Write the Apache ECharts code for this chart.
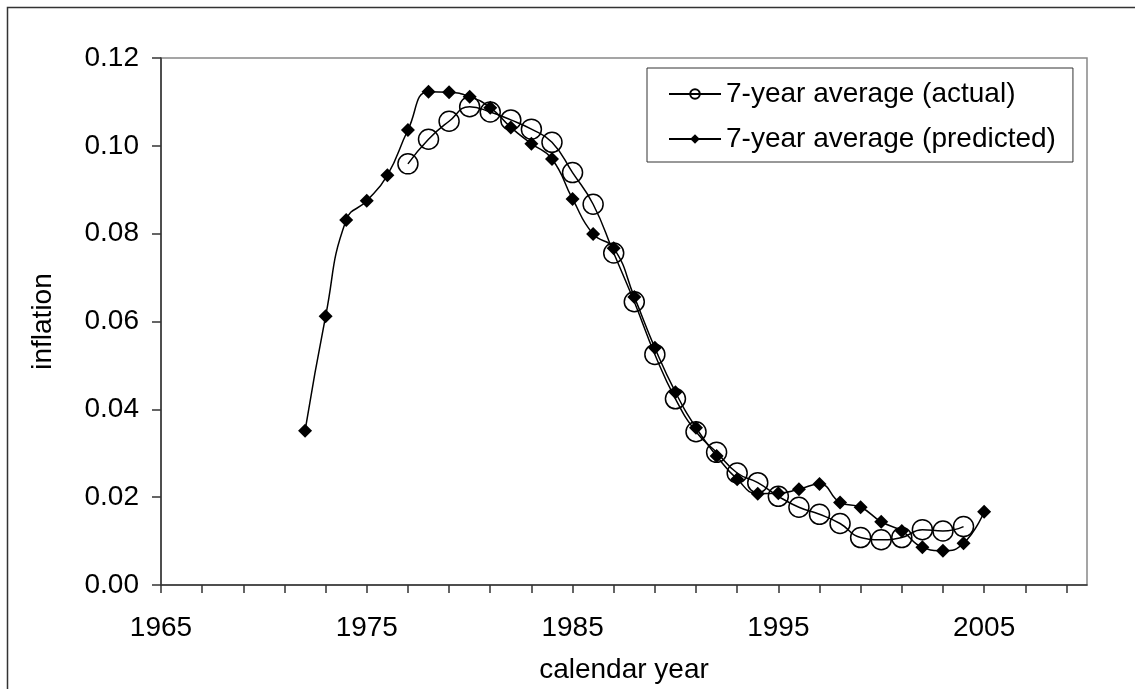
<!DOCTYPE html>
<html>
<head>
<meta charset="utf-8">
<title>inflation</title>
<style>
    html, body { margin:0; padding:0; background:#fff; }
    #main { width:1135px; height:689px; }
</style>
</head>
<body>
<div id="main"></div>
<script src="https://cdn.jsdelivr.net/npm/echarts@6/dist/echarts.min.js"></script>
<script type="text/javascript">
    // years and values
    var predYears = [1972,1973,1974,1975,1976,1977,1978,1979,1980,1981,1982,1983,1984,1985,1986,1987,1988,
                     1989,1990,1991,1992,1993,1994,1995,1996,1997,1998,1999,2000,2001,2002,2003,2004,2005];
    var predicted = [0.0351,0.0612,0.0831,0.0875,0.0933,0.1036,0.1123,0.1122,0.1112,0.1087,0.1042,0.1005,0.0970,
                     0.0879,0.0799,0.0767,0.0656,0.0540,0.0439,0.0358,0.0294,0.0241,0.0208,0.0209,0.0218,0.0230,
                     0.0188,0.0177,0.0144,0.0123,0.0086,0.0078,0.0095,0.0167];
    var actYears = [1977,1978,1979,1980,1981,1982,1983,1984,1985,1986,1987,1988,1989,1990,
                    1991,1992,1993,1994,1995,1996,1997,1998,1999,2000,2001,2002,2003,2004];
    var actual = [0.0959,0.1015,0.1056,0.1089,0.1077,0.1059,0.1038,0.1008,0.0939,0.0867,0.0756,0.0645,0.0525,0.0424,
                  0.0349,0.0302,0.0255,0.0233,0.0202,0.0177,0.0161,0.0140,0.0108,0.0103,0.0108,0.0126,0.0123,0.0133];
    var xTicks = [1965,1967,1969,1971,1973,1975,1977,1979,1981,1983,1985,1987,1989,1991,1993,1995,1997,1999,2001,2003,2005,2007,2009];
    var xLabels = [1965,1975,1985,1995,2005];

    function pairs(xs, ys) {
        var out = [];
        for (var i = 0; i < xs.length; i++) out.push([xs[i], ys[i]]);
        return out;
    }

    var chart = echarts.init(document.getElementById('main'));
    var font = 'Arial, "Liberation Sans", sans-serif';
    var fs = 28;

    var option = {
        backgroundColor: '#fff',
        animation: false,
        textStyle: { fontFamily: font, color: '#000' },
        graphic: [{
            type: 'rect',
            shape: { x: 7.5, y: 7.5, width: 1300, height: 900 },
            style: { fill: 'none', stroke: '#333', lineWidth: 1.5 },
            silent: true
        }],
        grid: {
            left: 161, top: 58, right: 48, bottom: 103,
            show: true, borderColor: '#888', borderWidth: 1.5, backgroundColor: '#fff'
        },
        legend: {
            orient: 'vertical',
            left: 647, top: 68,
            padding: [12, 17, 9, 21],
            itemGap: 17,
            itemWidth: 52,
            itemHeight: 12,
            borderColor: '#333',
            borderWidth: 1,
            backgroundColor: '#fff',
            textStyle: { fontFamily: font, fontSize: fs, color: '#000' },
            data: ['7-year average (actual)', '7-year average (predicted)']
        },
        xAxis: {
            type: 'value',
            min: 1965, max: 2010,
            name: 'calendar year',
            nameLocation: 'middle',
            nameGap: 71,
            nameTextStyle: { fontFamily: font, fontSize: fs, color: '#000' },
            axisLine: { lineStyle: { color: '#333', width: 1.5 } },
            axisTick: { show: true, inside: false, length: 8, customValues: xTicks, lineStyle: { color: '#333', width: 1.5 } },
            axisLabel: { customValues: xLabels, margin: 29, fontSize: fs, color: '#000', fontFamily: font,
                formatter: function (v) { return String(v); } },
            splitLine: { show: false }
        },
        yAxis: {
            type: 'value',
            min: 0, max: 0.12, interval: 0.02,
            name: 'inflation',
            nameLocation: 'middle',
            nameGap: 104,
            nameTextStyle: { fontFamily: font, fontSize: fs, color: '#000' },
            axisLine: { show: true, lineStyle: { color: '#333', width: 1.5 } },
            axisTick: { show: true, inside: false, length: 9, lineStyle: { color: '#333', width: 1.5 } },
            axisLabel: { margin: 22, fontSize: fs, color: '#000', fontFamily: font,
                formatter: function (v) { return v.toFixed(2); } },
            splitLine: { show: false }
        },
        series: [{
            name: '7-year average (actual)',
            type: 'line',
            smooth: 0.5,
            symbol: 'circle',
            symbolSize: 20,
            lineStyle: { color: '#000', width: 1.5 },
            itemStyle: { color: 'rgba(0,0,0,0)', borderColor: '#000', borderWidth: 1.5 },
            data: pairs(actYears, actual)
        }, {
            name: '7-year average (predicted)',
            type: 'line',
            smooth: 0.5,
            symbol: 'diamond',
            symbolSize: 14,
            lineStyle: { color: '#000', width: 1.5 },
            itemStyle: { color: '#000', borderColor: '#000', borderWidth: 0 },
            data: pairs(predYears, predicted)
        }]
    };
    chart.setOption(option);
</script>
</body>
</html>
